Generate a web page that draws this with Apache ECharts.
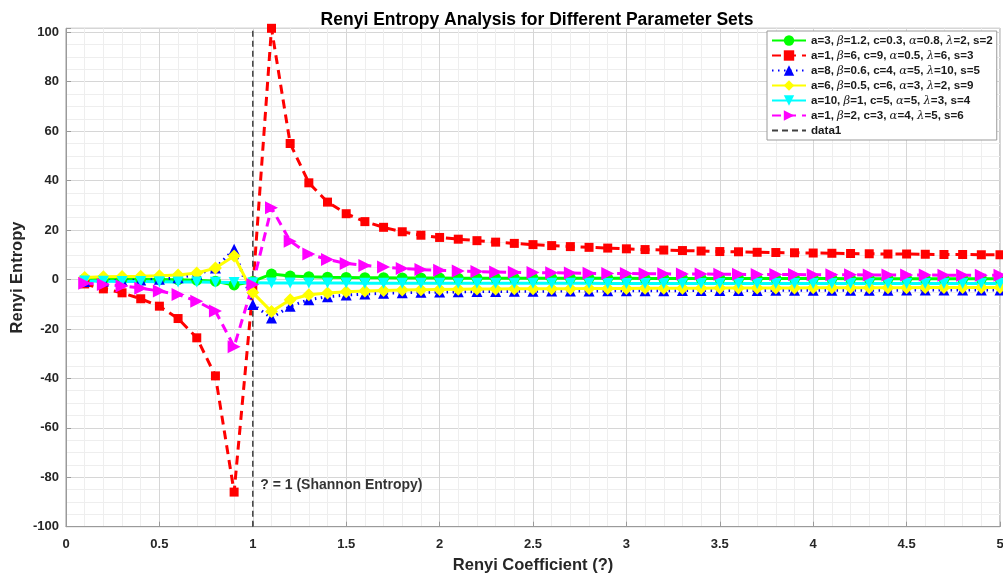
<!DOCTYPE html>
<html>
<head>
<meta charset="utf-8">
<script src="https://cdn.jsdelivr.net/npm/echarts@6/dist/echarts.min.js"></script>
<style>
  html, body { margin: 0; padding: 0; background: #fff; }
  #chart { width: 1003px; height: 574px; }
</style>
</head>
<body>
<div id="chart"></div>
<script>
// Renyi order (alpha) sample points
const alphas = [0.1, 0.2, 0.3, 0.4, 0.5, 0.6, 0.7, 0.8, 0.9, 1.0,
  1.1, 1.2, 1.3, 1.4, 1.5, 1.6, 1.7, 1.8, 1.9, 2.0,
  2.1, 2.2, 2.3, 2.4, 2.5, 2.6, 2.7, 2.8, 2.9, 3.0,
  3.1, 3.2, 3.3, 3.4, 3.5, 3.6, 3.7, 3.8, 3.9, 4.0,
  4.1, 4.2, 4.3, 4.4, 4.5, 4.6, 4.7, 4.8, 4.9, 5.0];

// Renyi entropy per parameter set
const setGreen = [0.2, 0.2, 0.1, 0.1, 0.0, -0.1, -0.3, -0.7, -2.2, -0.8,
  2.2, 1.4, 1.1, 0.9, 0.8, 0.7, 0.7, 0.6, 0.6, 0.6,
  0.5, 0.5, 0.5, 0.5, 0.5, 0.5, 0.5, 0.5, 0.5, 0.5,
  0.4, 0.4, 0.4, 0.4, 0.4, 0.4, 0.4, 0.4, 0.4, 0.4,
  0.4, 0.3, 0.3, 0.3, 0.3, 0.3, 0.3, 0.3, 0.3, 0.3];
const setRed = [-1.8, -3.8, -5.4, -7.8, -10.8, -15.8, -23.6, -39.0, -86.0, -4.0,
  101.6, 55.0, 39.1, 31.3, 26.6, 23.4, 21.1, 19.3, 17.9, 17.0,
  16.3, 15.7, 15.1, 14.6, 14.1, 13.7, 13.3, 13.0, 12.7, 12.4,
  12.1, 11.9, 11.7, 11.5, 11.3, 11.2, 11.0, 10.9, 10.8, 10.7,
  10.6, 10.5, 10.4, 10.3, 10.3, 10.2, 10.1, 10.1, 10.0, 10.0];
const setBlue = [-0.8, -0.6, -0.4, -0.2, 0.1, 0.7, 2.0, 4.6, 12.2, -10.1,
  -15.6, -10.8, -8.2, -7.0, -6.3, -5.9, -5.6, -5.4, -5.2, -5.1,
  -5.0, -4.9, -4.9, -4.8, -4.8, -4.7, -4.7, -4.7, -4.6, -4.6,
  -4.6, -4.6, -4.5, -4.5, -4.5, -4.5, -4.5, -4.4, -4.4, -4.4,
  -4.4, -4.4, -4.4, -4.4, -4.3, -4.3, -4.3, -4.3, -4.3, -4.3];
const setYellow = [0.8, 1.1, 1.2, 1.3, 1.5, 1.8, 2.6, 4.6, 9.5, -5.3,
  -13.0, -8.2, -6.2, -5.5, -5.0, -4.7, -4.5, -4.3, -4.2, -4.1,
  -4.0, -3.9, -3.9, -3.8, -3.8, -3.7, -3.7, -3.6, -3.6, -3.6,
  -3.5, -3.5, -3.5, -3.5, -3.4, -3.4, -3.4, -3.4, -3.4, -3.3,
  -3.3, -3.3, -3.3, -3.3, -3.3, -3.2, -3.2, -3.2, -3.2, -3.2];
const setCyan = [-0.6, -0.7, -0.8, -0.8, -0.9, -1.0, -1.0, -1.1, -1.2, -1.3,
  -1.4, -1.4, -1.4, -1.4, -1.4, -1.5, -1.5, -1.5, -1.5, -1.5,
  -1.5, -1.5, -1.5, -1.5, -1.5, -1.5, -1.5, -1.5, -1.6, -1.6,
  -1.6, -1.6, -1.6, -1.6, -1.6, -1.6, -1.6, -1.6, -1.6, -1.6,
  -1.6, -1.6, -1.6, -1.6, -1.6, -1.6, -1.6, -1.6, -1.6, -1.6];
const setMagenta = [-1.5, -2.0, -2.6, -3.5, -4.7, -6.1, -8.8, -12.8, -27.2, -2.0,
  29.0, 15.5, 10.3, 8.1, 6.5, 5.7, 5.0, 4.4, 4.0, 3.7,
  3.4, 3.2, 3.0, 2.9, 2.8, 2.7, 2.6, 2.5, 2.4, 2.4,
  2.3, 2.3, 2.2, 2.2, 2.1, 2.1, 2.0, 2.0, 2.0, 1.9,
  1.9, 1.9, 1.8, 1.8, 1.8, 1.8, 1.7, 1.7, 1.7, 1.7];

const seriesNames = [
  'a=3, β=1.2, c=0.3, α=0.8, λ=2, s=2',
  'a=1, β=6, c=9, α=0.5, λ=6, s=3',
  'a=8, β=0.6, c=4, α=5, λ=10, s=5',
  'a=6, β=0.5, c=6, α=3, λ=2, s=9',
  'a=10, β=1, c=5, α=5, λ=3, s=4',
  'a=1, β=2, c=3, α=4, λ=5, s=6',
  'data1'
];

// Shannon limit marker line
const shannonX = [1, 1];
const shannonY = [-100, 101.6];
const noteText = '? = 1 (Shannon Entropy)';

// y range: fixed bottom, top at the largest value
const yMin = -100;
const yMax = 101.6;

const FONT = '"Liberation Sans", Arial, Helvetica, sans-serif';
const pairs = (ys) => alphas.map((a, i) => [a, ys[i]]);

function curve(name, ys, color, lineType, symbol, size, rotate) {
  return {
    name: name,
    type: 'line',
    data: pairs(ys),
    symbol: symbol,
    symbolSize: size,
    symbolRotate: rotate || 0,
    showAllSymbol: true,
    clip: false,
    lineStyle: { color: color, width: 3, type: lineType, cap: 'butt' },
    itemStyle: { color: color, borderColor: color, borderWidth: 0 },
    emphasis: { disabled: true },
    animation: false
  };
}

const chart = echarts.init(document.getElementById('chart'), null, { renderer: 'canvas' });

const legendData = seriesNames.map((n) => n === 'data1'
  ? { name: n, itemStyle: { opacity: 0 } }
  : { name: n });

chart.setOption({
  backgroundColor: '#ffffff',
  animation: false,
  title: {
    text: 'Renyi Entropy Analysis for Different Parameter Sets',
    left: 532, top: 6, textAlign: 'center',
    textStyle: { fontFamily: FONT, fontSize: 17.5, fontWeight: 'bold', color: '#000' }
  },
  grid: {
    left: 66, right: 3, top: 28.3, bottom: 47.3,
    outerBoundsMode: 'none',
    containLabel: false,
    show: true, borderColor: '#9a9a9a', borderWidth: 1, backgroundColor: '#fff'
  },
  legend: {
    orient: 'vertical',
    left: 767, top: 31,
    padding: [3, 4, 3, 4],
    itemGap: 2,
    itemWidth: 34,
    itemHeight: 13,
    backgroundColor: '#ffffff',
    borderColor: '#9a9a9a',
    borderWidth: 1,
    borderRadius: 0,
    data: legendData,
    formatter: (name) => name.replace(/([αβλ])/g, '{g|$1}'),
    textStyle: {
      fontFamily: FONT, fontSize: 11.6, fontWeight: 'bold', color: '#1a1a1a', lineHeight: 13,
      rich: {
        g: { fontFamily: '"DejaVu Serif", "Liberation Serif", serif', fontStyle: 'italic',
             fontSize: 11.6, fontWeight: 'normal', color: '#1a1a1a', lineHeight: 13 }
      }
    }
  },
  xAxis: {
    type: 'value', min: 0, max: 5, interval: 0.5,
    name: 'Renyi Coefficient (?)', nameLocation: 'middle', nameGap: 30,
    nameMoveOverlap: false,
    nameTextStyle: { fontFamily: FONT, fontSize: 16.5, fontWeight: 'bold', color: '#262626' },
    axisLine: { show: true, onZero: false, lineStyle: { color: '#9a9a9a', width: 1 } },
    axisTick: { show: true, inside: true, length: 5, lineStyle: { color: '#9a9a9a' } },
    minorTick: { show: true, splitNumber: 5, length: 0 },
    axisLabel: { fontFamily: FONT, fontSize: 13, fontWeight: 'bold', color: '#262626', margin: 11 },
    splitLine: { show: true, lineStyle: { color: '#d6d6d6', width: 1 } },
    minorSplitLine: { show: true, lineStyle: { color: '#eeeeee', width: 1 } }
  },
  yAxis: {
    type: 'value', min: yMin, max: yMax, interval: 20,
    name: 'Renyi Entropy', nameLocation: 'middle', nameGap: 40,
    nameMoveOverlap: false,
    nameTextStyle: { fontFamily: FONT, fontSize: 16.5, fontWeight: 'bold', color: '#262626' },
    axisLine: { show: true, onZero: false, lineStyle: { color: '#9a9a9a', width: 1 } },
    axisTick: { show: true, inside: true, length: 5, lineStyle: { color: '#9a9a9a' } },
    minorTick: { show: true, splitNumber: 4, length: 0 },
    axisLabel: { fontFamily: FONT, fontSize: 13, fontWeight: 'bold', color: '#262626', margin: 7,
                 showMaxLabel: false },
    splitLine: { show: true, lineStyle: { color: '#d6d6d6', width: 1 } },
    minorSplitLine: { show: true, lineStyle: { color: '#eeeeee', width: 1 } }
  },
  series: [
    curve(seriesNames[0], setGreen, '#00ff00', 'solid', 'circle', 11),
    curve(seriesNames[1], setRed, '#ff0000', [9, 6], 'rect', 9),
    curve(seriesNames[2], setBlue, '#0000ff', [1.5, 4.5], 'triangle', 11),
    curve(seriesNames[3], setYellow, '#ffff00', 'solid', 'diamond', 13),
    curve(seriesNames[4], setCyan, '#00ffff', 'solid', 'triangle', 11, 180),
    curve(seriesNames[5], setMagenta, '#ff00ff', [9, 6], 'triangle', 13, -90),
    {
      name: seriesNames[6],
      type: 'line',
      data: shannonX.map((x, i) => [x, shannonY[i]]),
      symbol: 'none',
      lineStyle: { color: '#404040', width: 1.5, type: [6, 4] },
      itemStyle: { color: '#404040' },
      emphasis: { disabled: true },
      animation: false
    },
    {
      name: 'note',
      type: 'scatter',
      data: [[1.04, -83]],
      symbolSize: 0,
      silent: true,
      label: {
        show: true, position: 'right', distance: 0,
        formatter: noteText,
        fontFamily: FONT, fontSize: 14, fontWeight: 'bold', color: '#000'
      },
      animation: false
    }
  ]
});
</script>
</body>
</html>
